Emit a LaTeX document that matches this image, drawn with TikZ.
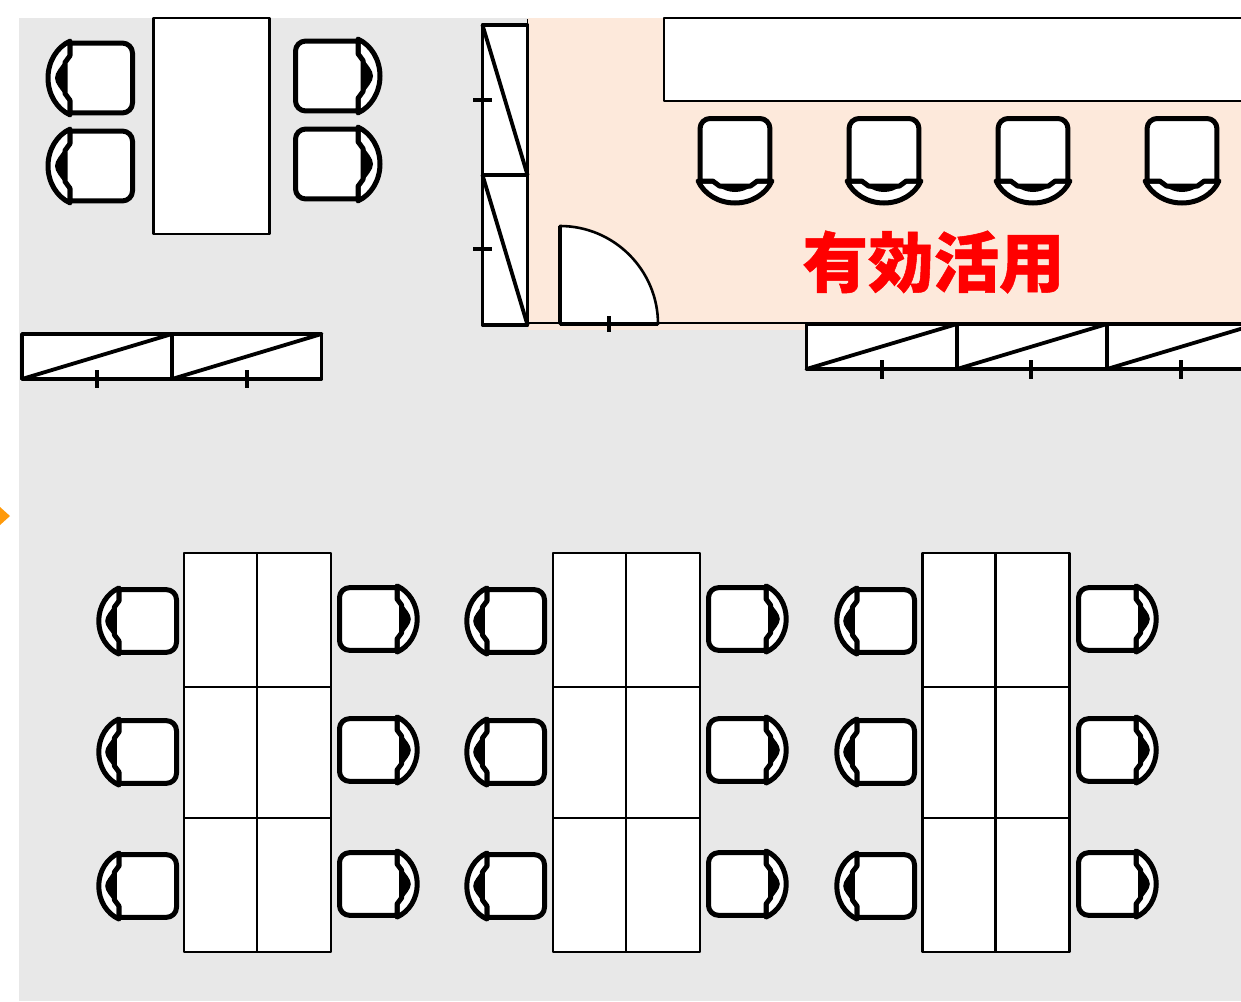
\documentclass[tikz,border=0pt]{standalone}
\usepackage{fontspec}
\newfontfamily\cjkfont[BoldFeatures={FakeBold=0.8}]{Noto Sans CJK JP}
\definecolor{floorgrey}{HTML}{E8E8E8}
\definecolor{peach}{HTML}{FDE9DB}
\definecolor{arroworange}{HTML}{FF9A0A}
\tikzset{
  furn/.style={draw=black,fill=white,line width=2.6pt,line join=round},
  win/.style={draw=black,fill=white,line width=3.8pt,line join=round},
  winline/.style={draw=black,line width=3.8pt,line cap=round},
  tickline/.style={draw=black,line width=3.4pt},
  pics/chair/.style={code={
    \draw[fill=white,line width=5pt,line join=round,line cap=round]
      (0,-38) .. controls (-13,-32) and (-22,-17) .. (-22,0)
      .. controls (-22,17) and (-13,32) .. (0,38) -- cycle;
    \fill[black] (-5,-18) .. controls (-9,-12) and (#1,-6) .. (#1,0)
      .. controls (#1,6) and (-9,12) .. (-5,18) -- cycle;
    \draw[fill=white,line width=5pt,line join=round]
      (0,-36) -- (0,-23) -- (-5,-16) -- (-5,16) -- (0,23) -- (0,36)
      [rounded corners=10pt] -- (62.5,36) -- (62.5,-36) [sharp corners] -- cycle;
  }},
  bigL/.style={yscale=.97},
  bigR/.style={xscale=-1,yscale=.97},
  downchair/.style={rotate=90,yscale=.97},
  smallL/.style={xscale=.92,yscale=.87},
  smallR/.style={xscale=-.92,yscale=.87},
}
\begin{document}
\begin{tikzpicture}[x=1pt,y=-1pt]
\useasboundingbox (0,0) rectangle (1241,1001);
% floor
\fill[floorgrey] (19,18) rectangle (1241,1001);
\fill[peach] (528,18) rectangle (1241,330);
\fill[arroworange] (0,507) -- (10,516) -- (0,525) -- cycle;
% top-left table
\draw[furn] (153.5,18) rectangle (269.5,234);
\foreach \cy in {78,166} \pic[bigL] at (70,\cy) {chair=-15};
\foreach \cy in {76,164} \pic[bigR] at (358,\cy) {chair=-15};
% counter
\draw[furn] (664,18) -- (1245,18) -- (1245,101) -- (664,101) -- cycle;
\foreach \cx in {735,884,1033,1182} \pic[downchair] at (\cx,181) {chair=-11};
% wall line
\draw[draw=black,line width=2.6pt] (528,323) -- (1241,323);
\draw[draw=black,line width=1pt] (527.5,19) -- (527.5,25);
% left vertical windows
\draw[win] (482.5,25) rectangle (527.5,175);
\draw[win] (482.5,175) rectangle (527.5,325);
\draw[winline] (482.5,25) -- (527.5,175);
\draw[winline] (482.5,175) -- (527.5,325);
\draw[tickline] (473,100) -- (492,100);
\draw[tickline] (473,249) -- (492,249);
% door
\draw[furn] (560,324) -- (560,226) .. controls (614,226) and (658,270) .. (658,324) -- cycle;
\draw[draw=black,line width=3.8pt] (560,324) -- (560,226);
\draw[draw=black,line width=3.8pt] (560,324) -- (658,324);
\draw[tickline] (609,316) -- (609,332);
% lower-left windows
\draw[win] (22,334) rectangle (172,379);
\draw[win] (172,334) rectangle (321.5,379);
\draw[winline] (22,379) -- (172,334);
\draw[winline] (172,379) -- (321.5,334);
\draw[tickline] (97,370) -- (97,388);
\draw[tickline] (247,370) -- (247,388);
% right windows
\draw[win] (806.5,324) rectangle (957,369);
\draw[win] (957,324) rectangle (1107,369);
\draw[win] (1107,324) rectangle (1257,369);
\draw[winline] (806.5,369) -- (957,324);
\draw[winline] (957,369) -- (1107,324);
\draw[winline] (1107,369) -- (1257,324);
\draw[tickline] (882,360) -- (882,379);
\draw[tickline] (1031,360) -- (1031,379);
\draw[tickline] (1181,360) -- (1181,379);
% label
\node[text=red,inner sep=0pt,font=\cjkfont\bfseries\fontsize{65.5}{66}\selectfont] (label) at (933.5,262) {有効活用};
% lower tables
\foreach \tx/\bl/\br in {184/119/397,553/487/766,922.5/857/1136}{
  \foreach \ya/\yb in {553/687,687/818,818/952}{
    \draw[furn] (\tx,\ya) rectangle ++(73,\yb-\ya);
    \draw[furn] (\tx+73,\ya) rectangle ++(74,\yb-\ya);
  }
  \foreach \cy in {621,752,886} \pic[smallL] at (\bl,\cy) {chair=-15};
  \foreach \cy in {619,750,884} \pic[smallR] at (\br,\cy) {chair=-15};
}
\end{tikzpicture}
\end{document}
